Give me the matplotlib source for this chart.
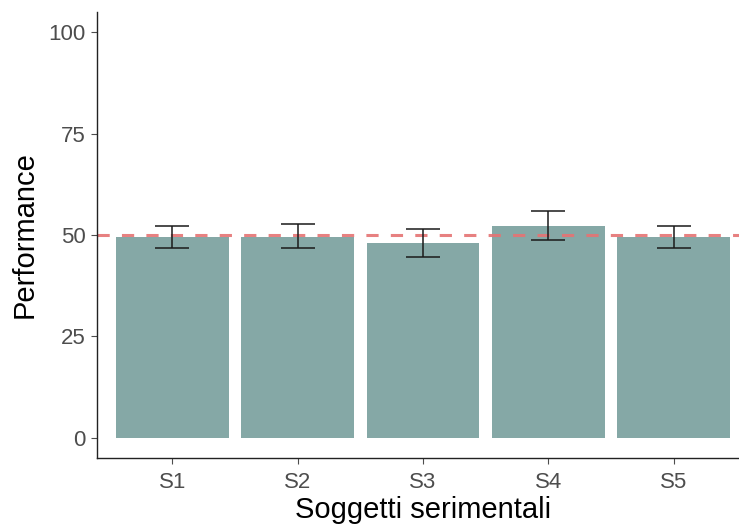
import matplotlib
matplotlib.use('Agg')
import matplotlib.pyplot as plt

plt.rcParams['font.family'] = ['Liberation Sans', 'DejaVu Sans']

# data
subjects = ['S1', 'S2', 'S3', 'S4', 'S5']
performance = [49.5, 49.6, 48.0, 52.2, 49.5]
err_low = [46.7, 46.7, 44.6, 48.7, 46.7]
err_high = [52.3, 52.6, 51.5, 55.8, 52.3]
chance = 50
yticks = [0, 25, 50, 75, 100]

W, H = 739, 530
fig = plt.figure(figsize=(W / 100, H / 100), dpi=100)
# panel runs a bit past the right edge, as in the reference
ax = fig.add_axes([97 / W, (H - 458) / H, 652 / W, 446 / H])

x = list(range(len(subjects)))
ax.bar(x, performance, width=0.9, color='#85a8a6', zorder=1)

lower = [p - l for p, l in zip(performance, err_low)]
upper = [h - p for p, h in zip(performance, err_high)]
ax.errorbar(x, performance, yerr=[lower, upper], fmt='none', ecolor='#1a1a1a',
            elinewidth=1.1, capsize=12.5, capthick=1.1, zorder=3)

ax.axhline(chance, color='#e57373', linewidth=2.2, dashes=(4, 4), alpha=0.9, zorder=2)

ax.set_xlim(-0.6, 4.6)
ax.set_ylim(-5, 105)
ax.set_xticks(x)
ax.set_xticklabels(subjects)
ax.set_yticks(yticks)

for side in ['top', 'right']:
    ax.spines[side].set_visible(False)
for side in ['left', 'bottom']:
    ax.spines[side].set_linewidth(1.0)
    ax.spines[side].set_color('#222222')

ax.tick_params(axis='both', colors='#4d4d4d', labelsize=16, length=4, width=0.8)
ax.tick_params(axis='x', pad=6)
ax.tick_params(axis='y', pad=4)

ax.set_xlabel('Soggetti serimentali', fontsize=21, labelpad=2)
ax.set_ylabel('Performance', fontsize=21, labelpad=7)

fig.savefig('out.png', dpi=100)
